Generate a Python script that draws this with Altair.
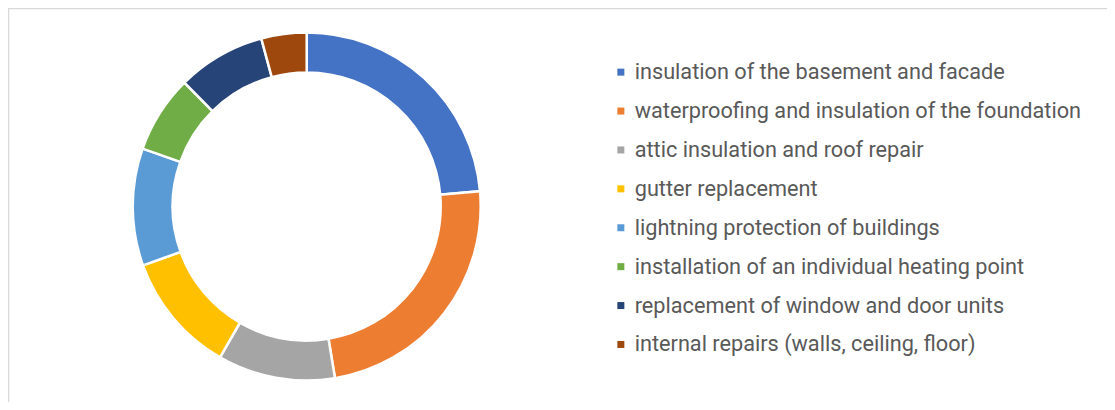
import altair as alt
import pandas as pd

categories = [
    "insulation of the basement and facade",
    "waterproofing and insulation of the foundation",
    "attic insulation and roof repair",
    "gutter replacement",
    "lightning protection of buildings",
    "installation of an individual heating point",
    "replacement of window and door units",
    "internal repairs (walls, ceiling, floor)",
]
shares = [23.6, 23.8, 10.9, 11.2, 10.9, 7.2, 8.2, 4.2]
colors = ["#4472C4", "#ED7D31", "#A5A5A5", "#FFC000", "#5B9BD5", "#70AD47", "#264478", "#9E480E"]

df = pd.DataFrame({"category": categories, "share": shares, "order": list(range(len(categories)))})

frame = alt.Chart(pd.DataFrame({"a": [0]})).mark_rect(
    fill="white", stroke="#D9D9D9", strokeWidth=1.5
).encode(
    x=alt.value(0.5), y=alt.value(0.5), x2=alt.value(1300), y2=alt.value(600)
)

donut = alt.Chart(df).mark_arc(
    innerRadius=134, outerRadius=174, stroke="white", strokeWidth=2.5
).encode(
    theta=alt.Theta("share:Q", stack=True),
    order=alt.Order("order:Q"),
    x=alt.value(298.7),
    y=alt.value(198.5),
    color=alt.Color(
        "category:N",
        sort=categories,
        scale=alt.Scale(domain=categories, range=colors),
        legend=alt.Legend(
            title=None,
            orient="none",
            legendX=602,
            legendY=53.3,
            padding=0,
            symbolType="square",
            symbolSize=49,
            symbolStrokeWidth=0,
            labelFont="Roboto",
            labelFontSize=21.7,
            labelColor="#595959",
            labelLimit=0,
            labelOffset=3,
            rowPadding=15.9,
        ),
    ),
)

chart = alt.layer(frame, donut).properties(
    width=1099, height=394, padding=0, autosize=alt.AutoSizeParams(type="none")
).configure_view(stroke=None)

chart.save("out.html", embed_options={"renderer": "svg", "actions": False})
